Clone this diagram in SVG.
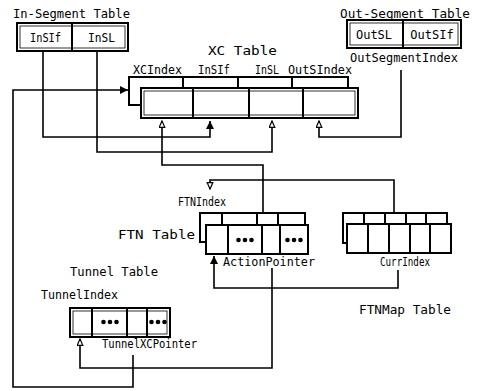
<svg xmlns="http://www.w3.org/2000/svg" width="478" height="391" viewBox="0 0 478 391">
<style>
text{font-family:"DejaVu Sans Mono","Liberation Mono",monospace;fill:#000;font-size:13px}
.s{font-size:12px}
.box{fill:#fff;stroke:#000;stroke-width:2}
.in{fill:none;stroke:#000;stroke-width:0.8}
.div{stroke:#000;stroke-width:2}
.con{fill:none;stroke:#000;stroke-width:1.6}
</style>
<defs>
<marker id="af" markerUnits="userSpaceOnUse" markerWidth="10" markerHeight="10" refX="8" refY="4" orient="auto">
<path d="M0,0 L8,4 L0,8 Z" fill="#000"/>
</marker>
<marker id="ah" markerUnits="userSpaceOnUse" markerWidth="10" markerHeight="10" refX="7" refY="3.5" orient="auto">
<path d="M0.7,0.7 L7,3.5 L0.7,6.3 Z" fill="#fff" stroke="#000" stroke-width="1.2"/>
</marker>
<g id="dots3"><circle cx="-6.5" cy="0" r="2.3"/><circle cx="0" cy="0" r="2.3"/><circle cx="6.5" cy="0" r="2.3"/></g>
</defs>

<g id="connectors">
<path class="con" d="M43,51 V137 H210 V121" marker-end="url(#af)"/>
<path class="con" d="M97,51 V152 H272 V121" marker-end="url(#ah)"/>
<path class="con" d="M263,213 V165 H162 V121" marker-end="url(#ah)"/>
<path class="con" d="M401,70 V137 H319 V121" marker-end="url(#ah)"/>
<path class="con" d="M394,213 V180 H210 V189" marker-end="url(#ah)"/>
<path class="con" d="M133,355 V387 H13 V90 H128" marker-end="url(#af)"/>
<path class="con" d="M272,268 V368 H80 V339" marker-end="url(#ah)"/>
<path class="con" d="M398,270 V288 H214 V256" marker-end="url(#af)"/>
</g>

<g id="in-segment">
<text x="13" y="18" textLength="117" lengthAdjust="spacingAndGlyphs">In-Segment Table</text>
<rect class="box" x="17" y="23" width="111" height="28"/>
<rect class="in" x="20" y="26" width="105" height="22"/>
<line class="div" x1="72" y1="23" x2="72" y2="51"/>
<text class="s" x="30" y="42" textLength="31" lengthAdjust="spacingAndGlyphs">InSIf</text>
<text class="s" x="88" y="42" textLength="27" lengthAdjust="spacingAndGlyphs">InSL</text>
</g>

<g id="out-segment">
<text x="340" y="18" textLength="130" lengthAdjust="spacingAndGlyphs">Out-Segment Table</text>
<rect class="box" x="347" y="20" width="114" height="28"/>
<rect class="in" x="350" y="23" width="108" height="22"/>
<line class="div" x1="403" y1="20" x2="403" y2="48"/>
<text class="s" x="374" y="39" text-anchor="middle">OutSL</text>
<text class="s" x="432" y="39" text-anchor="middle">OutSIf</text>
<text x="350" y="62" textLength="108" lengthAdjust="spacingAndGlyphs">OutSegmentIndex</text>
</g>

<g id="xc-table">
<text x="208" y="55" textLength="69" lengthAdjust="spacingAndGlyphs">XC Table</text>
<text x="133" y="74" textLength="49" lengthAdjust="spacingAndGlyphs">XCIndex</text>
<text x="198" y="74" textLength="32" lengthAdjust="spacingAndGlyphs">InSIf</text>
<text x="255" y="74" textLength="24" lengthAdjust="spacingAndGlyphs">InSL</text>
<text x="288" y="74" textLength="64" lengthAdjust="spacingAndGlyphs">OutSIndex</text>
<rect class="box" x="129" y="77" width="219" height="28"/>
<line class="div" x1="183" y1="77" x2="183" y2="90"/>
<line class="div" x1="238" y1="77" x2="238" y2="90"/>
<line class="div" x1="292" y1="77" x2="292" y2="90"/>
<rect class="box" x="141" y="88" width="217" height="30"/>
<rect class="in" x="144" y="91" width="211" height="24"/>
<line class="div" x1="193" y1="88" x2="193" y2="118"/>
<line class="div" x1="249" y1="88" x2="249" y2="118"/>
<line class="div" x1="303" y1="88" x2="303" y2="118"/>
</g>

<g id="ftn-table">
<text x="178" y="206" textLength="48" lengthAdjust="spacingAndGlyphs">FTNIndex</text>
<text x="118" y="239" textLength="77" lengthAdjust="spacingAndGlyphs">FTN Table</text>
<rect class="box" x="200" y="213" width="105" height="29"/>
<line class="div" x1="222" y1="213" x2="222" y2="226"/>
<line class="div" x1="257" y1="213" x2="257" y2="226"/>
<line class="div" x1="278" y1="213" x2="278" y2="226"/>
<rect class="box" x="206" y="225" width="102" height="29"/>
<line class="div" x1="228" y1="225" x2="228" y2="254"/>
<line class="div" x1="262" y1="225" x2="262" y2="254"/>
<line class="div" x1="280" y1="225" x2="280" y2="254"/>
<use href="#dots3" x="245" y="240"/>
<use href="#dots3" x="294" y="240"/>
<text x="223" y="266" textLength="92" lengthAdjust="spacingAndGlyphs">ActionPointer</text>
</g>

<g id="ftnmap-table">
<rect class="box" x="343" y="213" width="104" height="30"/>
<line class="div" x1="364" y1="213" x2="364" y2="226"/>
<line class="div" x1="385" y1="213" x2="385" y2="226"/>
<line class="div" x1="406" y1="213" x2="406" y2="226"/>
<line class="div" x1="426" y1="213" x2="426" y2="226"/>
<rect class="box" x="347" y="224" width="104" height="29"/>
<line class="div" x1="368" y1="224" x2="368" y2="253"/>
<line class="div" x1="389" y1="224" x2="389" y2="253"/>
<line class="div" x1="410" y1="224" x2="410" y2="253"/>
<line class="div" x1="430" y1="224" x2="430" y2="253"/>
<text class="s" x="380" y="266" textLength="50" lengthAdjust="spacingAndGlyphs">CurrIndex</text>
<text x="359" y="314" textLength="92" lengthAdjust="spacingAndGlyphs">FTNMap Table</text>
</g>

<g id="tunnel-table">
<text x="70" y="276" textLength="88" lengthAdjust="spacingAndGlyphs">Tunnel Table</text>
<text x="41" y="299" textLength="77" lengthAdjust="spacingAndGlyphs">TunnelIndex</text>
<rect class="box" x="70" y="308" width="100" height="29"/>
<rect class="in" x="73" y="311" width="94" height="23"/>
<line class="div" x1="92" y1="308" x2="92" y2="337"/>
<line class="div" x1="127" y1="308" x2="127" y2="337"/>
<line class="div" x1="147" y1="308" x2="147" y2="337"/>
<use href="#dots3" x="110" y="322"/>
<use href="#dots3" x="158" y="322"/>
<text class="s" x="102" y="348" textLength="95" lengthAdjust="spacingAndGlyphs">TunnelXCPointer</text>
</g>
</svg>
